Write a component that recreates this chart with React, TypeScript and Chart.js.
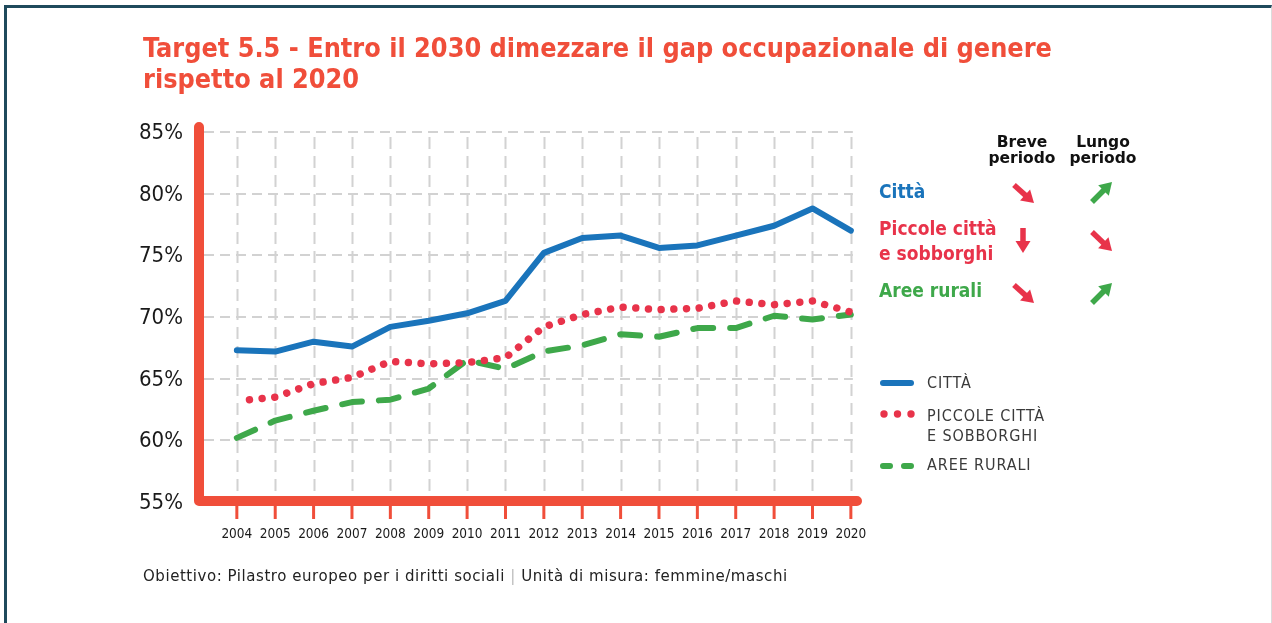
import React, { useEffect, useRef } from "react";
import { Chart, registerables } from "chart.js";

Chart.register(...registerables);

const years = [2004, 2005, 2006, 2007, 2008, 2009, 2010, 2011, 2012, 2013, 2014, 2015, 2016, 2017, 2018, 2019, 2020];
const citta = [67.3, 67.2, 68.0, 67.6, 69.2, 69.7, 70.3, 71.3, 75.2, 76.4, 76.6, 75.6, 75.8, 76.6, 77.4, 78.8, 77.0];
const piccoleCitta = [63.2, 63.5, 64.6, 65.1, 66.4, 66.2, 66.3, 66.7, 69.2, 70.2, 70.8, 70.6, 70.7, 71.3, 71.0, 71.3, 70.4];
const areeRurali = [60.2, 61.6, 62.4, 63.1, 63.3, 64.2, 66.5, 65.8, 67.2, 67.7, 68.6, 68.4, 69.1, 69.1, 70.1, 69.8, 70.2];
const yTicks = [55, 60, 65, 70, 75, 80, 85];

const BLUE = "#1a74bb";
const RED = "#e8334a";
const GREEN = "#3ea84a";
const AXIS_RED = "#f04e3a";
const FRAME = "#1f4a5c";
const FONT = "'DejaVu Sans Condensed', 'DejaVu Sans', sans-serif";
const FONT_REG = "'DejaVu Sans', sans-serif";

function drawArrow(ctx: CanvasRenderingContext2D, x1: number, y1: number, x2: number, y2: number, color: string) {
  const dx = x2 - x1;
  const dy = y2 - y1;
  const len = Math.hypot(dx, dy);
  const ux = dx / len;
  const uy = dy / len;
  const headLen = 12;
  const headHalf = 7.5;
  const bx = x2 - ux * headLen;
  const by = y2 - uy * headLen;
  ctx.save();
  ctx.strokeStyle = color;
  ctx.fillStyle = color;
  ctx.lineWidth = 5.5;
  ctx.lineCap = "butt";
  ctx.beginPath();
  ctx.moveTo(x1, y1);
  ctx.lineTo(bx + ux * 1, by + uy * 1);
  ctx.stroke();
  ctx.beginPath();
  ctx.moveTo(x2, y2);
  ctx.lineTo(bx - uy * headHalf, by + ux * headHalf);
  ctx.lineTo(bx + uy * headHalf, by - ux * headHalf);
  ctx.closePath();
  ctx.fill();
  ctx.restore();
}

const decorPlugin = {
  id: "decor",
  beforeDatasetsDraw(chart: any) {
    const ctx: CanvasRenderingContext2D = chart.ctx;
    const xs = chart.scales.x;
    const ys = chart.scales.y;
    const area = chart.chartArea;
    const yBottom = ys.getPixelForValue(yTicks[0]) - 1;
    ctx.save();
    // grid
    ctx.strokeStyle = "#d2d2d2";
    ctx.lineWidth = 2;
    ctx.setLineDash([12, 7]);
    years.forEach((yr) => {
      const x = Math.round(xs.getPixelForValue(yr)) + 0.5;
      ctx.beginPath();
      ctx.moveTo(x, area.top + 5);
      ctx.lineTo(x, yBottom);
      ctx.stroke();
    });
    ctx.setLineDash([10, 6]);
    yTicks.slice(1).forEach((v) => {
      const y = Math.round(ys.getPixelForValue(v));
      ctx.beginPath();
      ctx.moveTo(area.left + 4, y);
      ctx.lineTo(xs.getPixelForValue(years[years.length - 1]) + 2, y);
      ctx.stroke();
    });
    ctx.setLineDash([]);
    // red ticks
    ctx.strokeStyle = AXIS_RED;
    ctx.lineWidth = 3;
    years.forEach((yr) => {
      const x = xs.getPixelForValue(yr);
      ctx.beginPath();
      ctx.moveTo(x, yBottom + 4);
      ctx.lineTo(x, yBottom + 18);
      ctx.stroke();
    });
    // red axes
    ctx.strokeStyle = AXIS_RED;
    ctx.lineWidth = 10;
    ctx.lineCap = "round";
    ctx.lineJoin = "round";
    ctx.beginPath();
    ctx.moveTo(area.left - 1, area.top - 5);
    ctx.lineTo(area.left - 1, yBottom);
    ctx.lineTo(area.right, yBottom);
    ctx.stroke();
    // y labels
    ctx.fillStyle = "#1a1a1a";
    ctx.font = `22px ${FONT}`;
    ctx.textAlign = "right";
    ctx.textBaseline = "alphabetic";
    yTicks.forEach((v) => {
      const y = ys.getPixelForValue(v);
      ctx.fillText(`${v}%`, area.left - 17, y + 7);
    });
    // x labels
    ctx.font = `13.5px ${FONT}`;
    ctx.textAlign = "center";
    years.forEach((yr) => {
      ctx.fillText(String(yr), xs.getPixelForValue(yr), yBottom + 37);
    });
    ctx.restore();
  },
  afterDraw(chart: any) {
    const ctx: CanvasRenderingContext2D = chart.ctx;
    ctx.save();
    // trend arrows
    drawArrow(ctx, 1014, 185, 1034, 203, RED);
    drawArrow(ctx, 1092, 202, 1112, 182, GREEN);
    drawArrow(ctx, 1023, 228, 1023, 253, RED);
    drawArrow(ctx, 1092, 232, 1112, 251, RED);
    drawArrow(ctx, 1014, 285, 1034, 303, RED);
    drawArrow(ctx, 1092, 303, 1112, 283, GREEN);
    // legend samples
    ctx.lineCap = "round";
    ctx.lineWidth = 6;
    ctx.strokeStyle = BLUE;
    ctx.beginPath();
    ctx.moveTo(883, 383);
    ctx.lineTo(911, 383);
    ctx.stroke();
    ctx.fillStyle = RED;
    [884, 897.5, 911].forEach((x) => {
      ctx.beginPath();
      ctx.arc(x, 414, 3.7, 0, Math.PI * 2);
      ctx.fill();
    });
    ctx.strokeStyle = GREEN;
    ctx.beginPath();
    ctx.moveTo(883, 466);
    ctx.lineTo(890, 466);
    ctx.moveTo(904, 466);
    ctx.lineTo(911, 466);
    ctx.stroke();
    ctx.restore();
  },
};

const abs = (left: number, top: number, extra: React.CSSProperties = {}): React.CSSProperties => ({
  position: "absolute",
  left,
  top,
  whiteSpace: "nowrap",
  margin: 0,
  ...extra,
});

export default function App() {
  const canvasRef = useRef<HTMLCanvasElement | null>(null);

  useEffect(() => {
    const canvas = canvasRef.current;
    if (!canvas) return;
    const toPoints = (vals: number[]) => years.map((yr, i) => ({ x: yr, y: vals[i] }));
    const chart = new Chart(canvas, {
      type: "line",
      data: {
        datasets: [
          {
            label: "CITTÀ",
            data: toPoints(citta),
            borderColor: BLUE,
            borderWidth: 6,
            pointRadius: 0,
            tension: 0,
            borderJoinStyle: "round",
            borderCapStyle: "round",
            clip: false,
          },
          {
            label: "PICCOLE CITTÀ E SOBBORGHI",
            data: toPoints(piccoleCitta),
            borderColor: RED,
            borderWidth: 7.5,
            borderDash: [0.01, 12.69],
            borderDashOffset: 0.02,
            borderCapStyle: "round",
            pointRadius: 0,
            tension: 0,
            clip: false,
          },
          {
            label: "AREE RURALI",
            data: toPoints(areeRurali),
            borderColor: GREEN,
            borderWidth: 6,
            borderDash: [20, 17],
            borderCapStyle: "round",
            borderJoinStyle: "round",
            pointRadius: 0,
            tension: 0,
            clip: false,
          },
        ],
      } as any,
      options: {
        animation: false,
        responsive: false,
        maintainAspectRatio: false,
        layout: { padding: { left: 200, top: 132, right: 1272 - 857, bottom: 623 - 502 } },
        scales: {
          x: { type: "linear", display: false, min: 2003.04, max: 2020.16 },
          y: { display: false, min: yTicks[0], max: yTicks[yTicks.length - 1] },
        },
        plugins: {
          legend: { display: false },
          tooltip: { enabled: false },
        },
      } as any,
      plugins: [decorPlugin as any],
    });
    return () => chart.destroy();
  }, []);

  const condBold = (size: number, color: string): React.CSSProperties => ({
    fontFamily: FONT,
    fontWeight: "bold",
    fontSize: size,
    color,
  });

  const header: React.CSSProperties = {
    fontFamily: FONT_REG,
    fontWeight: "bold",
    fontSize: 15.5,
    lineHeight: "16px",
    color: "#111",
    width: 80,
    textAlign: "center",
  };
  const legendText: React.CSSProperties = {
    fontFamily: FONT,
    fontSize: 16,
    letterSpacing: 0.9,
    color: "#3a3a3a",
  };

  return (
    <div style={{ position: "absolute", left: 0, top: 0, width: 1272, height: 623, overflow: "hidden", background: "#fff" }}>
      <div
        style={{
          position: "absolute",
          left: 4,
          top: 5,
          width: 1268,
          height: 700,
          boxSizing: "border-box",
          borderTop: `3px solid ${FRAME}`,
          borderLeft: `3px solid ${FRAME}`,
          borderRight: "1px solid #dcdcdc",
        }}
      />
      <canvas ref={canvasRef} width={1272} height={623} style={{ position: "absolute", left: 0, top: 0, width: 1272, height: 623 }} />
      <div style={abs(143, 32, { ...condBold(26.8, AXIS_RED), lineHeight: "31px" })}>
        Target 5.5 - Entro il 2030 dimezzare il gap occupazionale di genere
        <br />
        rispetto al 2020
      </div>
      <div style={abs(982, 134, header)}>
        Breve
        <br />
        periodo
      </div>
      <div style={abs(1063, 134, header)}>
        Lungo
        <br />
        periodo
      </div>
      <div style={abs(879, 181, { ...condBold(19, BLUE), lineHeight: "20px" })}>Città</div>
      <div style={abs(879, 216, { ...condBold(19, RED), lineHeight: "25px" })}>
        Piccole città
        <br />e sobborghi
      </div>
      <div style={abs(879, 280, { ...condBold(19, GREEN), lineHeight: "20px" })}>Aree rurali</div>
      <div style={abs(927, 375, { ...legendText, lineHeight: "16px" })}>CITTÀ</div>
      <div style={abs(927, 406, { ...legendText, lineHeight: "20px" })}>
        PICCOLE CITTÀ
        <br />E SOBBORGHI
      </div>
      <div style={abs(927, 457, { ...legendText, lineHeight: "16px" })}>AREE RURALI</div>
      <div style={abs(143, 567, { fontFamily: FONT_REG, fontSize: 15, letterSpacing: 0.55, lineHeight: "18px", color: "#222" })}>
        Obiettivo: Pilastro europeo per i diritti sociali <span style={{ color: "#bbb" }}>|</span> Unità di misura: femmine/maschi
      </div>
    </div>
  );
}
